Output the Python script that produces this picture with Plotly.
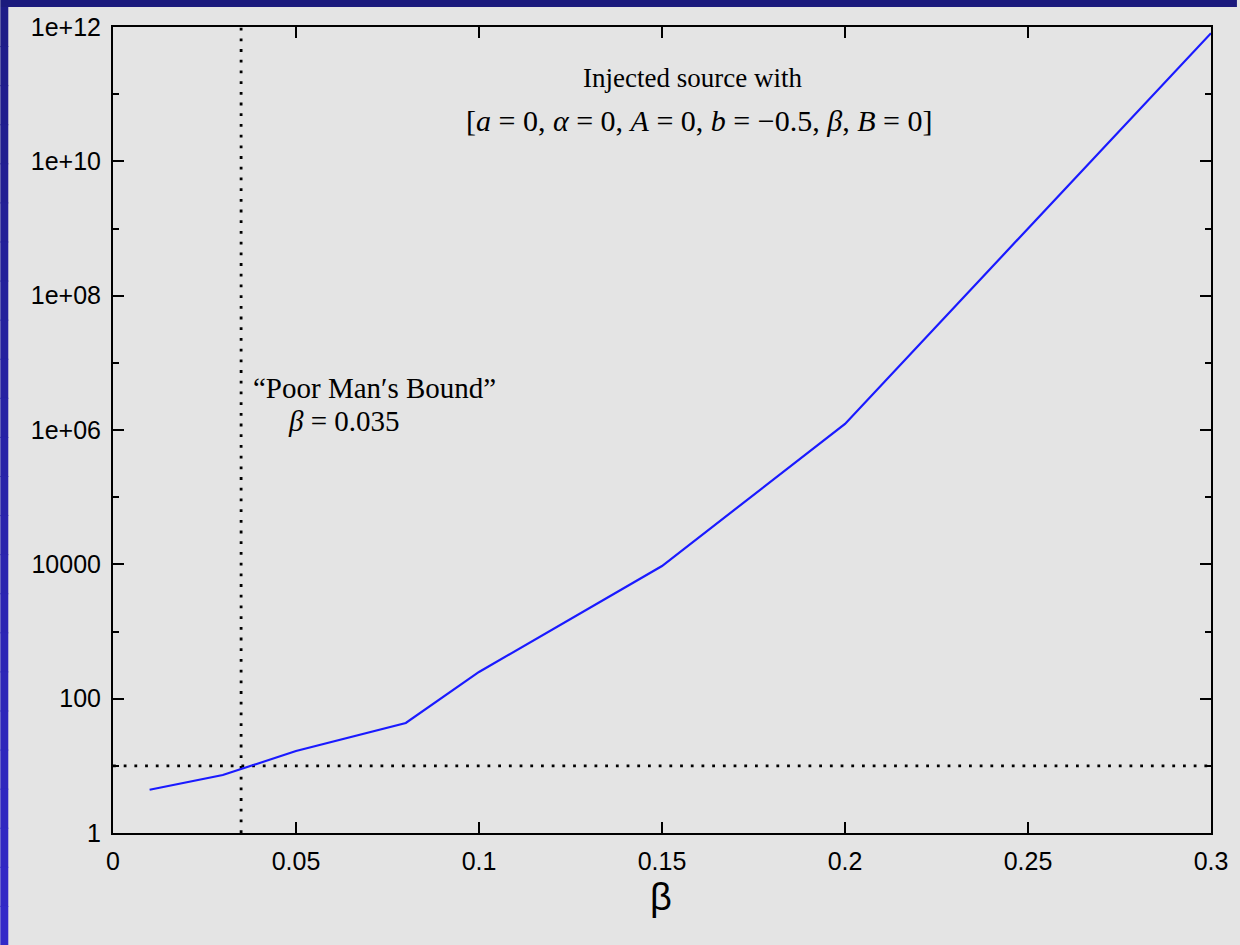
import plotly.graph_objects as go

# ---- data ----
beta_vals = [0.01, 0.03, 0.05, 0.08, 0.10, 0.15, 0.20, 0.30]
ratio_vals = [4.4, 7.3, 16.6, 43.4, 250, 9440, 1.23e6, 8.1e11]
bound_beta = 0.035
threshold = 10
x_ticks = [0, 0.05, 0.1, 0.15, 0.2, 0.25, 0.3]
x_tick_text = ["0", "0.05", "0.1", "0.15", "0.2", "0.25", "0.3"]
y_major = [1, 1e2, 1e4, 1e6, 1e8, 1e10, 1e12]
y_major_text = ["1", "100", "10000", "1e+06", "1e+08", "1e+10", "1e+12"]
y_minor = [1e1, 1e3, 1e5, 1e7, 1e9, 1e11]

W, H = 1240, 945
ML, MR, MT, MB = 113, 26, 27, 112
PW, PH = W - ML - MR, H - MT - MB

def px2paper_x(px):
    return (px - ML) / PW

def px2paper_y(py):
    return (H - MB - py) / PH

fig = go.Figure()

dotted = dict(color="black", width=2.8, dash="2.8px,7.9px")
fig.add_trace(go.Scatter(x=[0, 0.3], y=[threshold, threshold], mode="lines",
                         line=dotted, hoverinfo="skip", showlegend=False))
fig.add_trace(go.Scatter(x=[bound_beta, bound_beta], y=[1, 1e12], mode="lines",
                         line=dotted, hoverinfo="skip", showlegend=False))
fig.add_trace(go.Scatter(x=beta_vals, y=ratio_vals, mode="lines",
                         line=dict(color="#1a1aff", width=2.2), showlegend=False))

axis_common = dict(showgrid=False, zeroline=False, showline=True, linecolor="black",
                   linewidth=2, mirror="ticks", ticks="inside", ticklen=11,
                   tickwidth=1.5, tickcolor="black",
                   tickfont=dict(family="Liberation Sans, Arial, sans-serif", size=25, color="black"))

fig.update_xaxes(range=[0, 0.3], tickvals=x_ticks, ticktext=x_tick_text,
                 ticklabelstandoff=5, **axis_common)
fig.update_yaxes(type="log", range=[0, 12], tickvals=y_major, ticktext=y_major_text,
                 ticklabelstandoff=5,
                 minor=dict(tickvals=y_minor, ticklen=6, ticks="inside", tickwidth=1.5,
                            tickcolor="black", showgrid=False),
                 **axis_common)

serif = "Liberation Serif, Times New Roman, serif"
annotations = [
    dict(text="Injected source with", x=px2paper_x(694), y=px2paper_y(78),
         font=dict(family=serif, size=27, color="black")),
    dict(text="[<i>a</i> = 0, <i>α</i> = 0, <i>A</i> = 0, <i>b</i> = −0.5, <i>β</i>, <i>B</i> = 0]",
         x=px2paper_x(701), y=px2paper_y(121),
         font=dict(family=serif, size=30, color="black")),
    dict(text="“Poor Man′s Bound”", x=px2paper_x(375), y=px2paper_y(388),
         font=dict(family=serif, size=29, color="black")),
    dict(text="<i>β</i> = 0.035", x=px2paper_x(345), y=px2paper_y(421),
         font=dict(family=serif, size=29, color="black")),
    dict(text="β", x=px2paper_x(662), y=px2paper_y(897),
         font=dict(family="Liberation Sans, Arial, sans-serif", size=38, color="black")),
]
for a in annotations:
    a.update(xref="paper", yref="paper", showarrow=False, xanchor="center", yanchor="middle")

# slide frame: dark top band and gradient left band
shapes = [dict(type="rect", xref="paper", yref="paper",
               x0=px2paper_x(0), x1=px2paper_x(W), y0=px2paper_y(7), y1=px2paper_y(0),
               fillcolor="#1b1a7d", line=dict(width=0), layer="below")]
n = 24
c0 = (0x1e, 0x1c, 0x88)
c1 = (0x33, 0x29, 0xc8)
for i in range(n):
    t = i / (n - 1)
    col = tuple(round(c0[k] + (c1[k] - c0[k]) * t) for k in range(3))
    ya = 7 + (H - 7) * i / n
    yb = 7 + (H - 7) * (i + 1) / n + 1
    shapes.append(dict(type="rect", xref="paper", yref="paper",
                       x0=px2paper_x(0), x1=px2paper_x(8),
                       y0=px2paper_y(yb), y1=px2paper_y(ya),
                       fillcolor="rgb(%d,%d,%d)" % col, line=dict(width=0), layer="below"))

fig.update_layout(width=W, height=H, margin=dict(l=ML, r=MR, t=MT, b=MB, pad=0),
                  paper_bgcolor="#e4e4e4", plot_bgcolor="#e4e4e4",
                  annotations=annotations, shapes=shapes, showlegend=False)

fig.write_html("out.html")
